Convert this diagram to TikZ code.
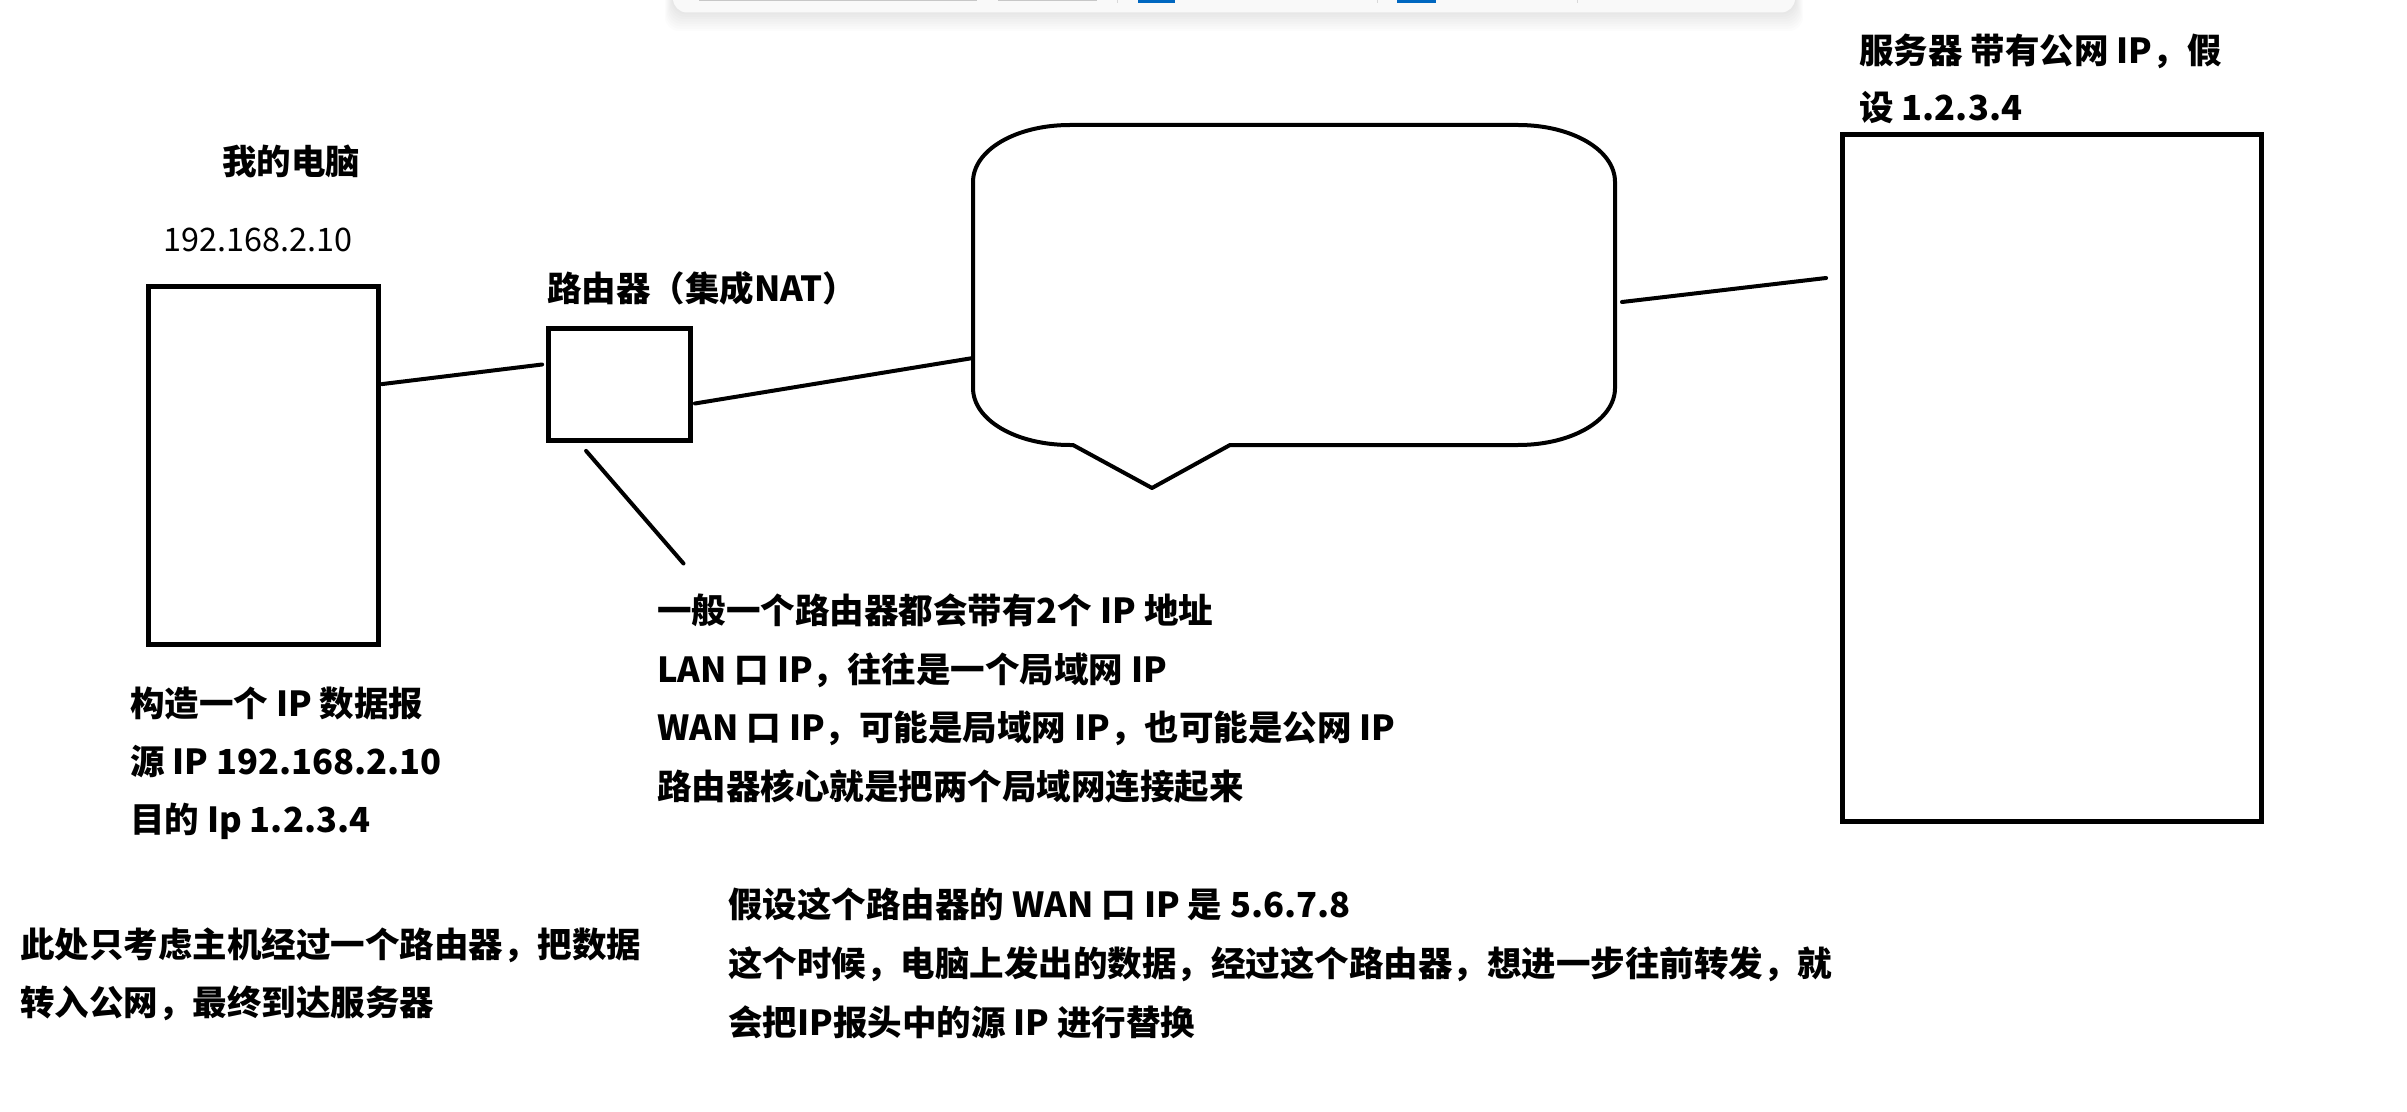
\documentclass[tikz,border=0pt]{standalone}
\usepackage{fontspec}
\setmainfont{Noto Sans CJK SC}
\usetikzlibrary{calc}

\definecolor{accent}{HTML}{0067C0}
\newcommand\notefont{\fontsize{17.25pt}{29pt}\selectfont}

\begin{document}
\begin{tikzpicture}[
    x=0.5pt, y=-0.5pt,
    box/.style={draw, line width=2.4pt, inner sep=0pt},
    link/.style={line width=2pt, line cap=round},
    note/.style={font=\notefont, anchor=base west, inner sep=0pt},
    title/.style={note, font=\notefont\bfseries}
]
    \useasboundingbox (0,0) rectangle (2407,1112);
    \fill[white] (0,0) rectangle (2407,1112);

    % === toolbar edge at the top ===
    \foreach \s in {1,...,8}
        \fill[black, opacity=0.012, rounded corners=7pt] (673-\s,-20) rectangle (1795+\s,12+2.4*\s);
    \fill[black!2.5, rounded corners=7pt] (673,-20) rectangle (1795,12.5);
    \fill[black!22] (699,-2) rectangle (977,1.5);
    \fill[black!22] (998,-2) rectangle (1097,1.5);
    \fill[accent] (1138,-2) rectangle (1175,3);
    \fill[accent] (1397,-2) rectangle (1436,3);
    \draw[black!15, line width=0.5pt] (1117,0) -- (1117,3);
    \draw[black!15, line width=0.5pt] (1377,0) -- (1377,3);
    \draw[black!15, line width=0.5pt] (1577,0) -- (1577,3);

    % === boxes ===
    \node[box, minimum width=115pt, minimum height=179pt] (pc) at (263.5,465.5) {};
    \node[box, minimum width=71pt, minimum height=56pt] (router) at (619.5,384.5) {};
    \node[box, minimum width=209.5pt, minimum height=343.5pt] (server) at (2052,478) {};

    % === callout (public network) ===
    \draw[line width=2pt, line join=round]
        (973,182) .. controls (973,150) and (1016,125) .. (1070,125)
        -- (1518,125) .. controls (1572,125) and (1615,150) .. (1615,182)
        -- (1615,388) .. controls (1615,420) and (1572,445) .. (1518,445)
        -- (1230,445) -- (1152,488) -- (1073,445)
        -- (1070,445) .. controls (1016,445) and (973,420) .. (973,388)
        -- cycle;
    \coordinate (cloudL) at (973,358);
    \coordinate (cloudR) at (1622,302);
    \coordinate (noteTip) at (683.5,563.5);

    % === connectors ===
    \draw[link] ($(pc.north east)+(1,100)$) -- ($(router.west)+(-4,-20)$);
    \draw[link] ($(router.east)+(2,19)$) -- (cloudL);
    \draw[link] (cloudR) -- ($(server.west)+(-14,-200)$);
    \draw[link] ($(router.south west)+(40,8)$) -- (noteTip);

    % === labels ===
    \node[title, anchor=base] (pcname) at (291,175) {我的电脑};
    \node[note, font=\fontsize{16.2pt}{29pt}\selectfont] (pcip) at (163,252) {192.168.2.10};
    \node[title] (rtname) at (547,302) {路由器（集成NAT）};
    \node[title] (svname) at (1859,64) {服务器 带有公网 IP，假};
    \node[title] (svip) at (1859,121) {设 1.2.3.4};

    % packet built by the computer
    \node[title] (pkt1) at (130,716) {构造一个 IP 数据报};
    \node[title] (pkt2) at (130,774) {源 IP 192.168.2.10};
    \node[title] (pkt3) at (130,832) {目的 Ip 1.2.3.4};

    \node[title] (scope1) at (20,957) {此处只考虑主机经过一个路由器，把数据};
    \node[title] (scope2) at (20,1015) {转入公网，最终到达服务器};

    % router notes
    \node[title] (rt1) at (657,623) {一般一个路由器都会带有2个 IP 地址};
    \node[title] (rt2) at (657,682) {LAN 口 IP，往往是一个局域网 IP};
    \node[title] (rt3) at (657,740) {WAN 口 IP，可能是局域网 IP，也可能是公网 IP};
    \node[title] (rt4) at (657,799) {路由器核心就是把两个局域网连接起来};

    \node[title] (nat1) at (728,917) {假设这个路由器的 WAN 口 IP 是 5.6.7.8};
    \node[title] (nat2) at (728,976) {这个时候，电脑上发出的数据，经过这个路由器，想进一步往前转发，就};
    \node[title] (nat3) at (728,1035) {会把IP报头中的源 IP 进行替换};

\end{tikzpicture}
\end{document}
